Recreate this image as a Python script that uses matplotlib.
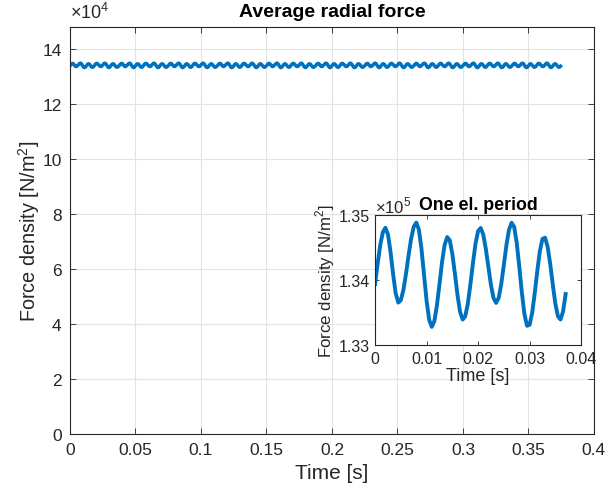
import numpy as np
import matplotlib
matplotlib.use("Agg")
import matplotlib.pyplot as plt
from matplotlib.ticker import FuncFormatter, MultipleLocator

plt.rcParams['font.family'] = ['Liberation Sans', 'DejaVu Sans']
plt.rcParams['mathtext.fontset'] = 'custom'
plt.rcParams['mathtext.rm'] = 'Liberation Sans'

# one electrical period, sampled every 0.5 ms, in units of 1e5 N/m^2
t_step = 0.0005
force_period = [
    1.33942, 1.34258, 1.34543, 1.34740, 1.34810, 1.34707, 1.34436, 1.34091,
    1.33796, 1.33654, 1.33692, 1.33852, 1.34100, 1.34384, 1.34644, 1.34825,
    1.34890, 1.34782, 1.34487, 1.34085, 1.33682, 1.33388, 1.33280, 1.33367,
    1.33608, 1.33940, 1.34281, 1.34545, 1.34666, 1.34615, 1.34406, 1.34097,
    1.33770, 1.33512, 1.33393, 1.33441, 1.33635, 1.33933, 1.34267, 1.34565,
    1.34759, 1.34807, 1.34706, 1.34485, 1.34201, 1.33924, 1.33723, 1.33650,
    1.33728, 1.33942, 1.34239, 1.34543, 1.34779, 1.34887, 1.34825, 1.34577,
    1.34207, 1.33806, 1.33474, 1.33296, 1.33312, 1.33496, 1.33801, 1.34149,
    1.34453, 1.34638, 1.34657, 1.34516, 1.34252, 1.33933, 1.33639, 1.33442,
    1.33394, 1.33517, 1.33787,
]
el_period = 0.0375
n_periods = 10

force_period = np.array(force_period) * 1e5
t_period = np.arange(len(force_period)) * t_step

# full record = the electrical period repeated
t_full = np.concatenate([t_period + k * el_period for k in range(n_periods)])
force_full = np.tile(force_period, n_periods)

blue = '#0072BD'


def g_fmt(scale=1.0):
    return FuncFormatter(lambda v, p: '%g' % round(v / scale, 6))


def style_axes(ax):
    ax.tick_params(direction='in', top=True, right=True, length=4, width=0.6,
                   colors='#262626', pad=6)
    for s in ax.spines.values():
        s.set_color('#262626')
        s.set_linewidth(0.8)


fig = plt.figure(figsize=(6.05, 5.02), dpi=100)

# main plot
ax = fig.add_axes([0.1157, 0.1335, 0.866, 0.8105])
ax.plot(t_full, force_full, color=blue, linewidth=2.5)
ax.set_xlim(0, 0.4)
ax.set_ylim(0, 1.48e5)
ax.xaxis.set_major_locator(MultipleLocator(0.05))
ax.yaxis.set_major_locator(MultipleLocator(2e4))
ax.xaxis.set_major_formatter(g_fmt())
ax.yaxis.set_major_formatter(g_fmt(1e4))
ax.grid(True, color='#e3e3e3', linewidth=0.8)
ax.set_axisbelow(True)
style_axes(ax)
ax.tick_params(labelsize=12.5)
ax.set_xlabel('Time [s]', fontsize=15, color='#262626')
ax.set_ylabel('Force density [N/m$^2$]', fontsize=14.3, color='#262626',
              labelpad=0)
ax.set_title('Average radial force', fontsize=14, fontweight='bold', pad=8)
ax.text(0.0, 1.012, '×10$^{4}$', transform=ax.transAxes, fontsize=13,
        color='#262626', ha='left', va='bottom')

# inset: one electrical period
ins = fig.add_axes([0.62, 0.3108, 0.3405, 0.258])
ins.plot(t_period, force_period, color=blue, linewidth=2.8)
ins.set_xlim(0, 0.04)
ins.set_ylim(1.33e5, 1.35e5)
ins.xaxis.set_major_locator(MultipleLocator(0.01))
ins.yaxis.set_major_locator(MultipleLocator(0.01e5))
ins.xaxis.set_major_formatter(g_fmt())
ins.yaxis.set_major_formatter(g_fmt(1e5))
style_axes(ins)
ins.tick_params(labelsize=11.5, pad=4, length=3)
ins.set_xlabel('Time [s]', fontsize=13, color='#262626', labelpad=1)
ins.set_ylabel('Force density [N/m$^2$]', fontsize=12.2, color='#262626',
               labelpad=1)
ins.set_title('One el. period', fontsize=12.8, fontweight='bold', pad=5)
ins.text(0.0, 1.0, '×10$^{5}$', transform=ins.transAxes, fontsize=12,
         color='#262626', ha='left', va='bottom')

fig.savefig('out.png', dpi=100)
